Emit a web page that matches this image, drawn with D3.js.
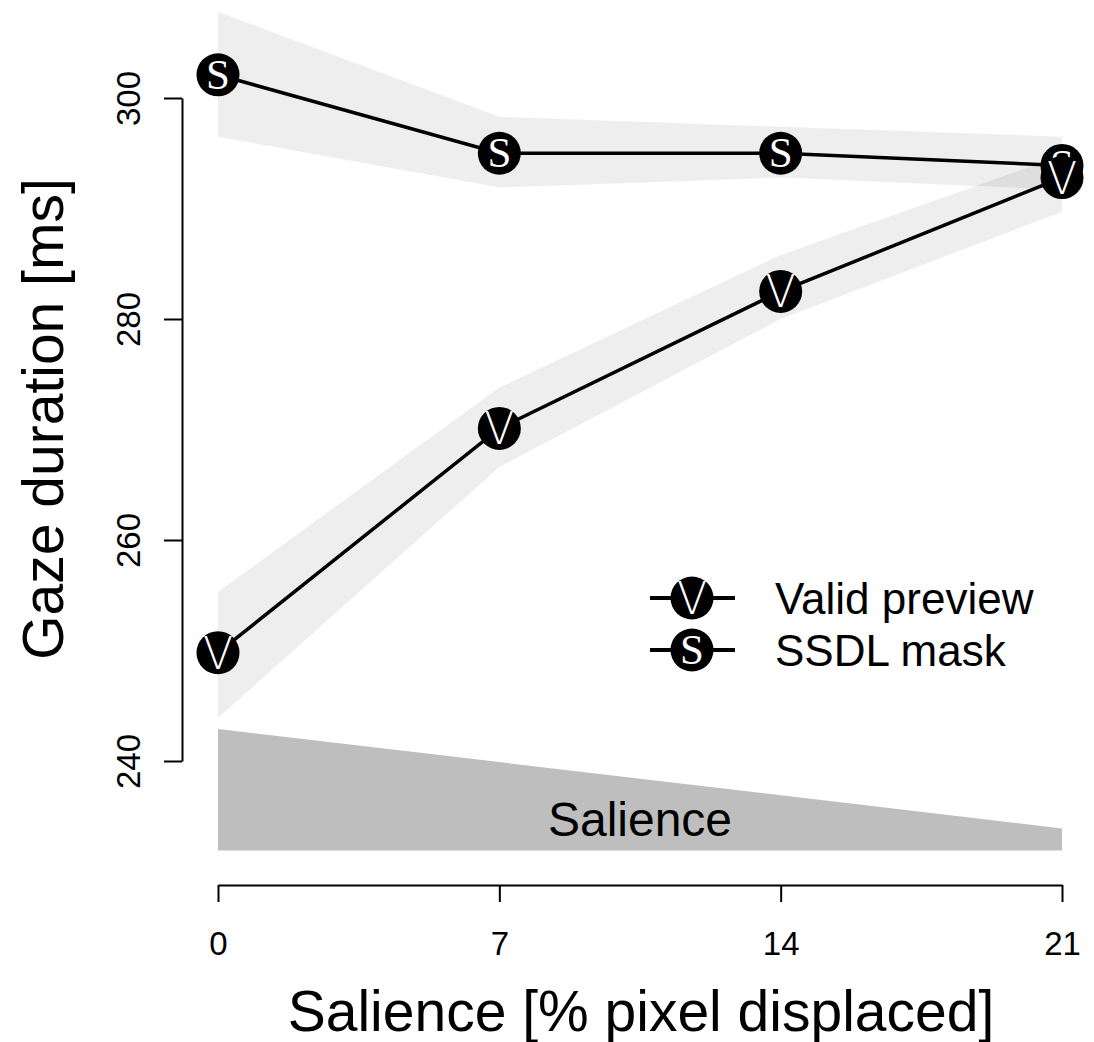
<!DOCTYPE html>
<html><head><meta charset="utf-8">
<script src="https://cdn.jsdelivr.net/npm/d3@7"></script>
<style>body{margin:0;background:#fff}svg{display:block}</style>
</head><body>
<script>
const xs = [0, 7, 14, 21];
const xTicks = [0, 7, 14, 21];
const yTicks = [240, 260, 280, 300];
const validMean = [249.8, 270.1, 282.5, 292.8];
const validLo = [243.9, 266.6, 280.0, 289.7];
const validHi = [255.3, 273.8, 285.8, 294.8];
const ssdlMean = [302.1, 295.0, 295.0, 293.9];
const ssdlLo = [296.5, 291.9, 292.8, 291.7];
const ssdlHi = [307.8, 298.3, 297.4, 296.5];
const salienceTop = [242.9, 233.9];
const salienceBottom = 231.9;
const seriesNames = ["Valid preview", "SSDL mask"];
const seriesLetters = ["V", "S"];

const W = 1094, H = 1042;
const svg = d3.select("body").append("svg").attr("width", W).attr("height", H);
const x = d3.scaleLinear().domain([0, 21]).range([218, 1062]);
const y = d3.scaleLinear().domain([240, 300]).range([761, 98]);
const font = "'Liberation Sans', Arial, sans-serif";

// salience wedge
svg.append("path")
  .attr("d", d3.line()([[x(0), y(salienceTop[0])], [x(21), y(salienceTop[1])], [x(21), y(salienceBottom)], [x(0), y(salienceBottom)]]) + "Z")
  .attr("fill", "#bebebe");
svg.append("text").attr("x", x(10.5)).attr("y", y(233.2)).attr("text-anchor", "middle")
  .attr("font-family", font).attr("font-size", 48).text("Salience");

// bands
const area = d3.area().x(d => x(d.x)).y0(d => y(d.lo)).y1(d => y(d.hi));
function band(lo, hi) {
  svg.append("path").datum(xs.map((v, i) => ({x: v, lo: lo[i], hi: hi[i]})))
    .attr("d", area).attr("fill", "#000").attr("fill-opacity", 0.068);
}
band(ssdlLo, ssdlHi);
band(validLo, validHi);

// lines
const line = d3.line().x(d => x(d[0])).y(d => y(d[1]));
function series(vals) {
  svg.append("path").datum(xs.map((v, i) => [v, vals[i]]))
    .attr("d", line).attr("fill", "none").attr("stroke", "#000").attr("stroke-width", 3.5);
}
function marker(cx, cy, letter) {
  const g = svg.append("g").attr("transform", `translate(${cx},${cy})`);
  g.append("circle").attr("r", 21.5).attr("fill", "#000");
  if (letter === "S") {
    g.append("text").attr("text-anchor", "middle").attr("dy", 14)
      .attr("font-family", "'Liberation Serif', serif").attr("font-size", 43)
      .attr("fill", "#fff").text(letter);
  } else {
    g.append("text").attr("text-anchor", "middle").attr("dy", 16)
      .attr("font-family", "'DejaVu Sans', sans-serif").attr("font-weight", 200)
      .attr("font-size", 44).attr("fill", "#fff").text(letter);
  }
}
series(ssdlMean);
series(validMean);
xs.forEach((v, i) => marker(x(v), y(ssdlMean[i]), "S"));
xs.forEach((v, i) => marker(x(v), y(validMean[i]), "V"));

// axes
const yAxis = svg.append("g").attr("transform", "translate(182,0)")
  .call(d3.axisLeft(y).tickValues(yTicks).tickSize(18).tickSizeOuter(0).tickPadding(0));
yAxis.select(".domain").attr("stroke-width", 2);
yAxis.selectAll(".tick line").attr("stroke-width", 2);
yAxis.selectAll(".tick text").attr("font-family", font).attr("font-size", 33).attr("fill", "#000")
  .attr("transform", "translate(-54,0) rotate(-90)").attr("text-anchor", "middle").attr("x", 0).attr("dy", "0.35em");

const xAxis = svg.append("g").attr("transform", "translate(0,885)")
  .call(d3.axisBottom(x).tickValues(xTicks).tickSize(17).tickSizeOuter(0).tickPadding(0));
xAxis.select(".domain").attr("stroke-width", 2);
xAxis.selectAll(".tick line").attr("stroke-width", 2);
xAxis.selectAll(".tick text").attr("font-family", font).attr("font-size", 33).attr("fill", "#000")
  .attr("y", 58).attr("dy", "0.35em");

svg.append("text").attr("x", 641).attr("y", 1031).attr("text-anchor", "middle")
  .attr("font-family", font).attr("font-size", 57).text("Salience [% pixel displaced]");
svg.append("text").attr("transform", "translate(63,419) rotate(-90)").attr("text-anchor", "middle")
  .attr("font-family", font).attr("font-size", 57).text("Gaze duration [ms]");

// legend
seriesNames.forEach((name, i) => {
  const ly = 598 + i * 52;
  svg.append("line").attr("x1", 650).attr("x2", 735).attr("y1", ly).attr("y2", ly)
    .attr("stroke", "#000").attr("stroke-width", 4);
  marker(692, ly, seriesLetters[i]);
  svg.append("text").attr("x", 775).attr("y", ly + 16).attr("font-family", font)
    .attr("font-size", 44).text(name);
});
</script>
</body></html>
